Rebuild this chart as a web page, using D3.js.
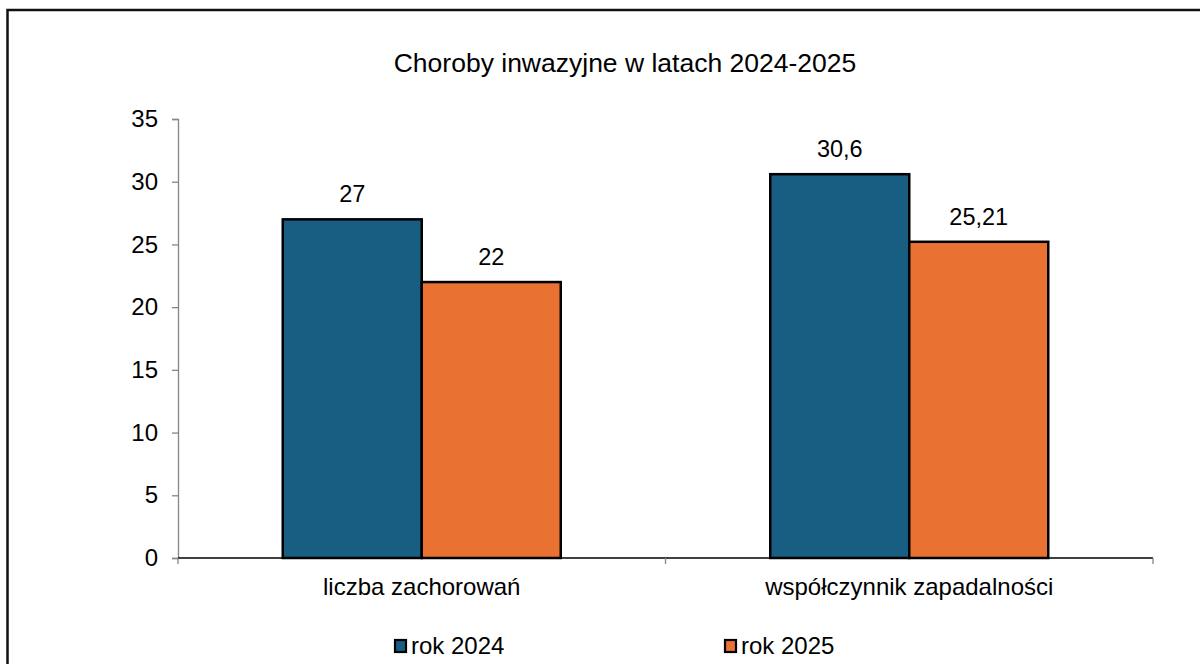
<!DOCTYPE html>
<html>
<head>
<meta charset="utf-8">
<script src="https://cdn.jsdelivr.net/npm/d3@7"></script>
<style>
  body { margin: 0; background: #fff; }
  svg text { font-family: "Liberation Sans", Arial, sans-serif; fill: #000; }
</style>
</head>
<body>
<svg width="1200" height="664"></svg>
<script>
// chart data
var title = "Choroby inwazyjne w latach 2024-2025";
var categories = ["liczba zachorowań", "współczynnik zapadalności"];
var seriesNames = ["rok 2024", "rok 2025"];
var values2024 = [27, 30.6];
var values2025 = [22, 25.21];
var labels2024 = ["27", "30,6"];
var labels2025 = ["22", "25,21"];
var yTicks = [0, 5, 10, 15, 20, 25, 30, 35];
var colors = ["#175e82", "#e97132"];

var svg = d3.select("svg");

// outer frame (runs off the right and bottom edge like the original)
svg.append("rect")
    .attr("x", 7.5).attr("y", 10)
    .attr("width", 1200).attr("height", 700)
    .attr("fill", "#fff")
    .attr("stroke", "#111").attr("stroke-width", 2.5);

var plot = {left: 178, right: 1153, top: 119, bottom: 558};

var x0 = d3.scaleBand().domain(categories).range([plot.left, plot.right]).paddingInner(0).paddingOuter(0);
var x1 = d3.scaleBand().domain(seriesNames).range([0, 278]);
var y = d3.scaleLinear().domain([0, 35]).range([plot.bottom, plot.top]);

// title
svg.append("text")
    .attr("x", 625).attr("y", 72)
    .attr("text-anchor", "middle")
    .style("font-size", "26.5px")
    .text(title);

// y axis
var yAxis = svg.append("g")
    .attr("transform", "translate(" + plot.left + ",0)")
    .call(d3.axisLeft(y).tickValues(yTicks).tickSize(6).tickPadding(14));
yAxis.select(".domain").attr("stroke", "#868686").attr("stroke-width", 1.3);
yAxis.selectAll(".tick line").attr("stroke", "#868686").attr("stroke-width", 1.3);
yAxis.selectAll(".tick text").style("font-size", "24px").attr("fill", "#000");

// bars
var rows = categories.map(function(c, i) {
    return [{cat: c, s: seriesNames[0], v: values2024[i], lab: labels2024[i], k: 0},
            {cat: c, s: seriesNames[1], v: values2025[i], lab: labels2025[i], k: 1}];
});
var groups = svg.selectAll("g.grp").data(rows).enter().append("g")
    .attr("class", "grp")
    .attr("transform", function(d) {
        return "translate(" + (x0(d[0].cat) + (x0.bandwidth() - 278) / 2) + ",0)";
    });

groups.selectAll("rect").data(function(d) { return d; }).enter().append("rect")
    .attr("x", function(d) { return x1(d.s); })
    .attr("y", function(d) { return y(d.v); })
    .attr("width", x1.bandwidth())
    .attr("height", function(d) { return y(0) - y(d.v); })
    .attr("fill", function(d) { return colors[d.k]; })
    .attr("stroke", "#000").attr("stroke-width", 2.5);

groups.selectAll("text").data(function(d) { return d; }).enter().append("text")
    .attr("x", function(d) { return x1(d.s) + x1.bandwidth() / 2; })
    .attr("y", function(d) { return y(d.v) - 17; })
    .attr("text-anchor", "middle")
    .style("font-size", "23.5px")
    .text(function(d) { return d.lab; });

// x axis
var xAxis = svg.append("g")
    .attr("transform", "translate(0," + plot.bottom + ")");
xAxis.append("line")
    .attr("x1", plot.left).attr("x2", plot.right)
    .attr("stroke", "#000").attr("stroke-width", 1.5);
var boundaries = [plot.left].concat(categories.map(function(c) { return x0(c) + x0.bandwidth(); }));
xAxis.selectAll("line.tk").data(boundaries).enter().append("line")
    .attr("class", "tk")
    .attr("x1", function(d) { return d; }).attr("x2", function(d) { return d; })
    .attr("y1", 0).attr("y2", 6)
    .attr("stroke", "#868686").attr("stroke-width", 1.3);
xAxis.selectAll("text").data(categories).enter().append("text")
    .attr("x", function(d) { return x0(d) + x0.bandwidth() / 2; })
    .attr("y", 37)
    .attr("text-anchor", "middle")
    .style("font-size", "24px")
    .text(function(d) { return d; });

// legend
var legendX = [394, 724];
var legend = svg.selectAll("g.leg").data(seriesNames).enter().append("g")
    .attr("class", "leg")
    .attr("transform", function(d, i) { return "translate(" + legendX[i] + ",639)"; });
legend.append("rect")
    .attr("x", 1).attr("y", 1)
    .attr("width", 11).attr("height", 12)
    .attr("fill", function(d, i) { return colors[i]; })
    .attr("stroke", "#000").attr("stroke-width", 2.2);
legend.append("text")
    .attr("x", 17).attr("y", 15)
    .style("font-size", "24px")
    .text(function(d) { return d; });
</script>
</body>
</html>
